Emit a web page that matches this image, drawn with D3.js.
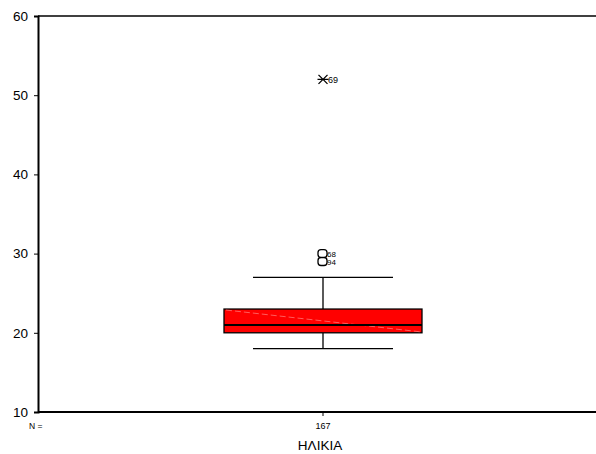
<!DOCTYPE html>
<html><head><meta charset="utf-8">
<script src="https://cdn.jsdelivr.net/npm/d3@7"></script>
<style>body{margin:0;background:#fff}svg{display:block}</style>
</head><body>
<script>
const categories = ["ΗΛΙΚΙΑ"];
const counts = [167];
const whiskerLow = [18];
const q1 = [20];
const median = [21];
const q3 = [23];
const whiskerHigh = [27];
const outliers = [{v:30,label:"68"},{v:29,label:"94"}];
const extremes = [{v:52,label:"69"}];
const yTicks = [10,20,30,40,50,60];

const W=596,H=454;
const svg=d3.select("body").append("svg").attr("width",W).attr("height",H);
const y=d3.scaleLinear().domain([10,60]).range([412,16]);
const x=d3.scaleBand().domain(categories).range([38,608]);
const font="Arial, 'Liberation Sans', sans-serif";

svg.append("line").attr("x1",38).attr("x2",W).attr("y1",y(60)).attr("y2",y(60)).attr("stroke","#000").attr("stroke-width",1.5);
svg.append("line").attr("x1",38).attr("x2",W).attr("y1",y(10)).attr("y2",y(10)).attr("stroke","#000").attr("stroke-width",2);

const yAxis=svg.append("g").attr("transform","translate(38,0)")
  .call(d3.axisLeft(y).tickValues(yTicks).tickSize(4).tickFormat(d3.format("d")));
yAxis.select(".domain").attr("stroke-width",2);
yAxis.selectAll("text").attr("font-family",font).attr("font-size",13.5).attr("fill","#000").attr("dx","-3");

const center=323;
const boxW=198, capW=140;
categories.forEach((c,i)=>{
  const g=svg.append("g");
  g.append("line").attr("x1",center).attr("x2",center).attr("y1",y(whiskerHigh[i])).attr("y2",y(q3[i])).attr("stroke","#000").attr("stroke-width",1.3);
  g.append("line").attr("x1",center).attr("x2",center).attr("y1",y(q1[i])).attr("y2",y(whiskerLow[i])).attr("stroke","#000").attr("stroke-width",1.3);
  g.append("line").attr("x1",center-capW/2).attr("x2",center+capW/2).attr("y1",y(whiskerHigh[i])).attr("y2",y(whiskerHigh[i])).attr("stroke","#000").attr("stroke-width",1.3);
  g.append("line").attr("x1",center-capW/2).attr("x2",center+capW/2).attr("y1",y(whiskerLow[i])).attr("y2",y(whiskerLow[i])).attr("stroke","#000").attr("stroke-width",1.3);
  g.append("rect").attr("x",center-boxW/2).attr("y",y(q3[i])).attr("width",boxW).attr("height",y(q1[i])-y(q3[i]))
   .attr("fill","#ff0000").attr("stroke","#000").attr("stroke-width",1.3);
  g.append("line").attr("x1",center-boxW/2+2).attr("x2",center+boxW/2-2).attr("y1",y(q3[i])+1).attr("y2",y(q1[i])-1)
   .attr("stroke","#ff9a9a").attr("stroke-width",0.6).attr("stroke-dasharray","6,3");
  g.append("line").attr("x1",center-boxW/2).attr("x2",center+boxW/2).attr("y1",y(median[i])).attr("y2",y(median[i])).attr("stroke","#000").attr("stroke-width",2);
  outliers.forEach(o=>{
    g.append("rect").attr("x",center-5).attr("y",y(o.v)-4).attr("width",9).attr("height",8).attr("rx",3)
      .attr("fill","#fff").attr("stroke","#000").attr("stroke-width",1.3);
    g.append("text").attr("x",center+4).attr("y",y(o.v)+3).text(o.label).attr("font-family",font).attr("font-size",8).attr("fill","#000");
  });
  extremes.forEach(o=>{
    const s=4.5, yy=y(o.v);
    g.append("path").attr("d",`M${center-s},${yy-s}L${center+s},${yy+s}M${center-s},${yy+s}L${center+s},${yy-s}M${center-s-1},${yy}L${center+s+1},${yy}`)
      .attr("stroke","#000").attr("stroke-width",1.3);
    g.append("text").attr("x",center+5).attr("y",yy+3.5).text(o.label).attr("font-family",font).attr("font-size",9).attr("fill","#000");
  });
  g.append("line").attr("x1",center).attr("x2",center).attr("y1",y(10)).attr("y2",y(10)+4).attr("stroke","#000");
  g.append("text").attr("x",center).attr("y",429).attr("text-anchor","middle").text(counts[i]).attr("font-family",font).attr("font-size",9).attr("fill","#000");
  g.append("text").attr("x",center-3).attr("y",450).attr("text-anchor","middle").text(c).attr("font-family",font).attr("font-size",13.5).attr("fill","#000");
});
svg.append("text").attr("x",29).attr("y",429).text("N =").attr("font-family",font).attr("font-size",8.5).attr("fill","#000");
</script>
</body></html>
